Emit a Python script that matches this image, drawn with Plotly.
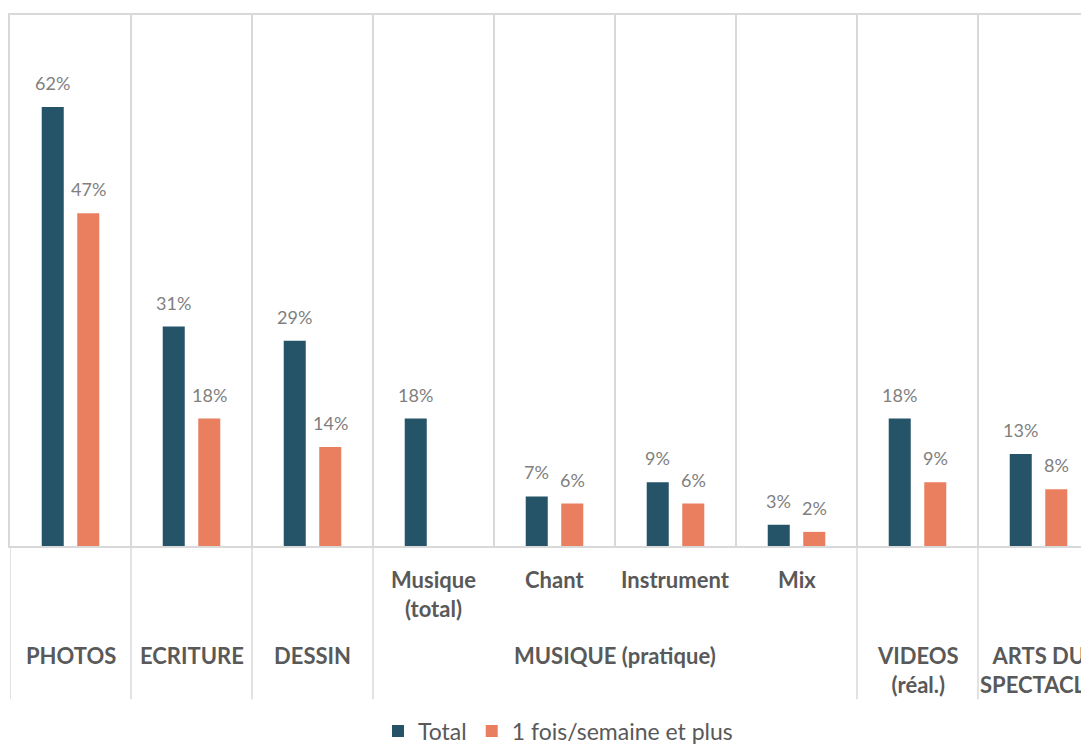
import plotly.graph_objects as go

# ---- data ----
categories = ["PHOTOS", "ECRITURE", "DESSIN", "Musique (total)", "Chant",
              "Instrument", "Mix", "VIDEOS (réal.)", "ARTS DU SPECTACLE"]
sub_labels = ["", "", "", "Musique<br>(total)", "Chant", "Instrument", "Mix", "", ""]
group_labels = ["PHOTOS", "ECRITURE", "DESSIN",
                "MUSIQUE (pratique)", "MUSIQUE (pratique)", "MUSIQUE (pratique)", "MUSIQUE (pratique)",
                "VIDEOS<br>(réal.)", "ARTS DU<br>SPECTACLE"]
total = [0.62, 0.31, 0.29, 0.18, 0.07, 0.09, 0.03, 0.18, 0.13]
weekly = [0.47, 0.18, 0.14, None, 0.06, 0.06, 0.02, 0.09, 0.08]
series_names = ["Total", "1 fois/semaine et plus"]

# ---- style ----
FONT = "Lato"
C_TOTAL = "#255469"
C_WEEK = "#E97F5E"
GRID = "#D9D9D9"
LABEL_C = "#595959"
VAL_C = "#7F7F7F"
BARGAP = 0.413
BARGROUPGAP = 0.38

W, H = 1089, 745
OFF = 8                      # page offset of the figure (body margin)
PLOT_TOP, PLOT_BOTTOM, PLOT_LEFT = 15, 549, 10   # target page pixels
M_L = PLOT_LEFT - OFF
M_T = PLOT_TOP - OFF
M_B = H - (PLOT_BOTTOM - OFF)
M_R = 0
plot_h = PLOT_BOTTOM - PLOT_TOP
plot_w = W - M_L - M_R
cat_px = 121.0

fig = go.Figure()
fig.add_trace(go.Bar(x=categories, y=total, name=series_names[0],
                     marker=dict(color=C_TOTAL, line=dict(width=0))))
fig.add_trace(go.Bar(x=categories, y=weekly, name=series_names[1],
                     marker=dict(color=C_WEEK, line=dict(width=0))))

annotations = []
# value labels above bars
off = (1 - BARGAP) / 4
for k, (vals, sgn) in enumerate([(total, -1), (weekly, 1)]):
    for i, v in enumerate(vals):
        if v is None:
            continue
        annotations.append(dict(x=i + sgn * off, y=v, xref="x", yref="y",
                                text=f"{round(v*100):d}%", showarrow=False,
                                yanchor="middle", yshift=24,
                                font=dict(family=FONT, size=18, color=VAL_C)))

def py(page_y):
    # convert page pixel y to paper coordinate
    return (PLOT_BOTTOM - page_y) / plot_h

def px(page_x):
    return (page_x - PLOT_LEFT) / plot_w

LBL_SIZE = 22
# sub-category labels
for i, s in enumerate(sub_labels):
    if s:
        annotations.append(dict(x=i, y=py(567), xref="x", yref="paper", text=s,
                                showarrow=False, yanchor="top", xanchor="center",
                                font=dict(family=FONT, size=LBL_SIZE, color=LABEL_C, weight="bold")))

# group labels (one per run of identical groups)
runs = []
start = 0
for i in range(1, len(group_labels) + 1):
    if i == len(group_labels) or group_labels[i] != group_labels[start]:
        runs.append((start, i - 1, group_labels[start]))
        start = i
shapes = []
for a, b, g in runs:
    annotations.append(dict(x=(a + b) / 2, y=py(644), xref="x", yref="paper", text=g,
                            showarrow=False, yanchor="top", xanchor="center",
                            font=dict(family=FONT, size=LBL_SIZE, color=LABEL_C, weight="bold")))
    # divider lines below axis at group boundaries
    shapes.append(dict(type="line", xref="x", yref="paper", x0=a - 0.5, x1=a - 0.5,
                       y0=0, y1=py(703), line=dict(color=GRID, width=1.5)))
shapes.append(dict(type="line", xref="x", yref="paper", x0=len(categories) - 0.5,
                   x1=len(categories) - 0.5, y0=0, y1=py(703), line=dict(color=GRID, width=1.5)))

fig.update_layout(
    width=W, height=H,
    margin=dict(l=M_L, r=M_R, t=M_T, b=M_B, pad=0),
    paper_bgcolor="white", plot_bgcolor="white",
    barmode="group", bargap=BARGAP, bargroupgap=BARGROUPGAP,
    font=dict(family=FONT, color=LABEL_C),
    xaxis=dict(type="category", categoryorder="array", categoryarray=categories,
               range=[-0.5, -0.5 + plot_w / cat_px],
               tickson="boundaries", showgrid=True, gridcolor=GRID, gridwidth=1.5,
               showticklabels=False, ticks="",
               showline=True, linecolor=GRID, linewidth=1.5, mirror=True, zeroline=False),
    yaxis=dict(range=[0, 0.75], showgrid=False, showticklabels=False, ticks="",
               zeroline=False, showline=True, linecolor=GRID, linewidth=1.5, mirror=False),
    legend=dict(orientation="h", x=px(378), xanchor="left", y=py(735), yanchor="middle",
                font=dict(family=FONT, size=23, color=LABEL_C), traceorder="normal",
                itemwidth=30, bgcolor="rgba(0,0,0,0)"),
    annotations=annotations,
    shapes=shapes,
    showlegend=True,
)

fig.write_html("out.html")
